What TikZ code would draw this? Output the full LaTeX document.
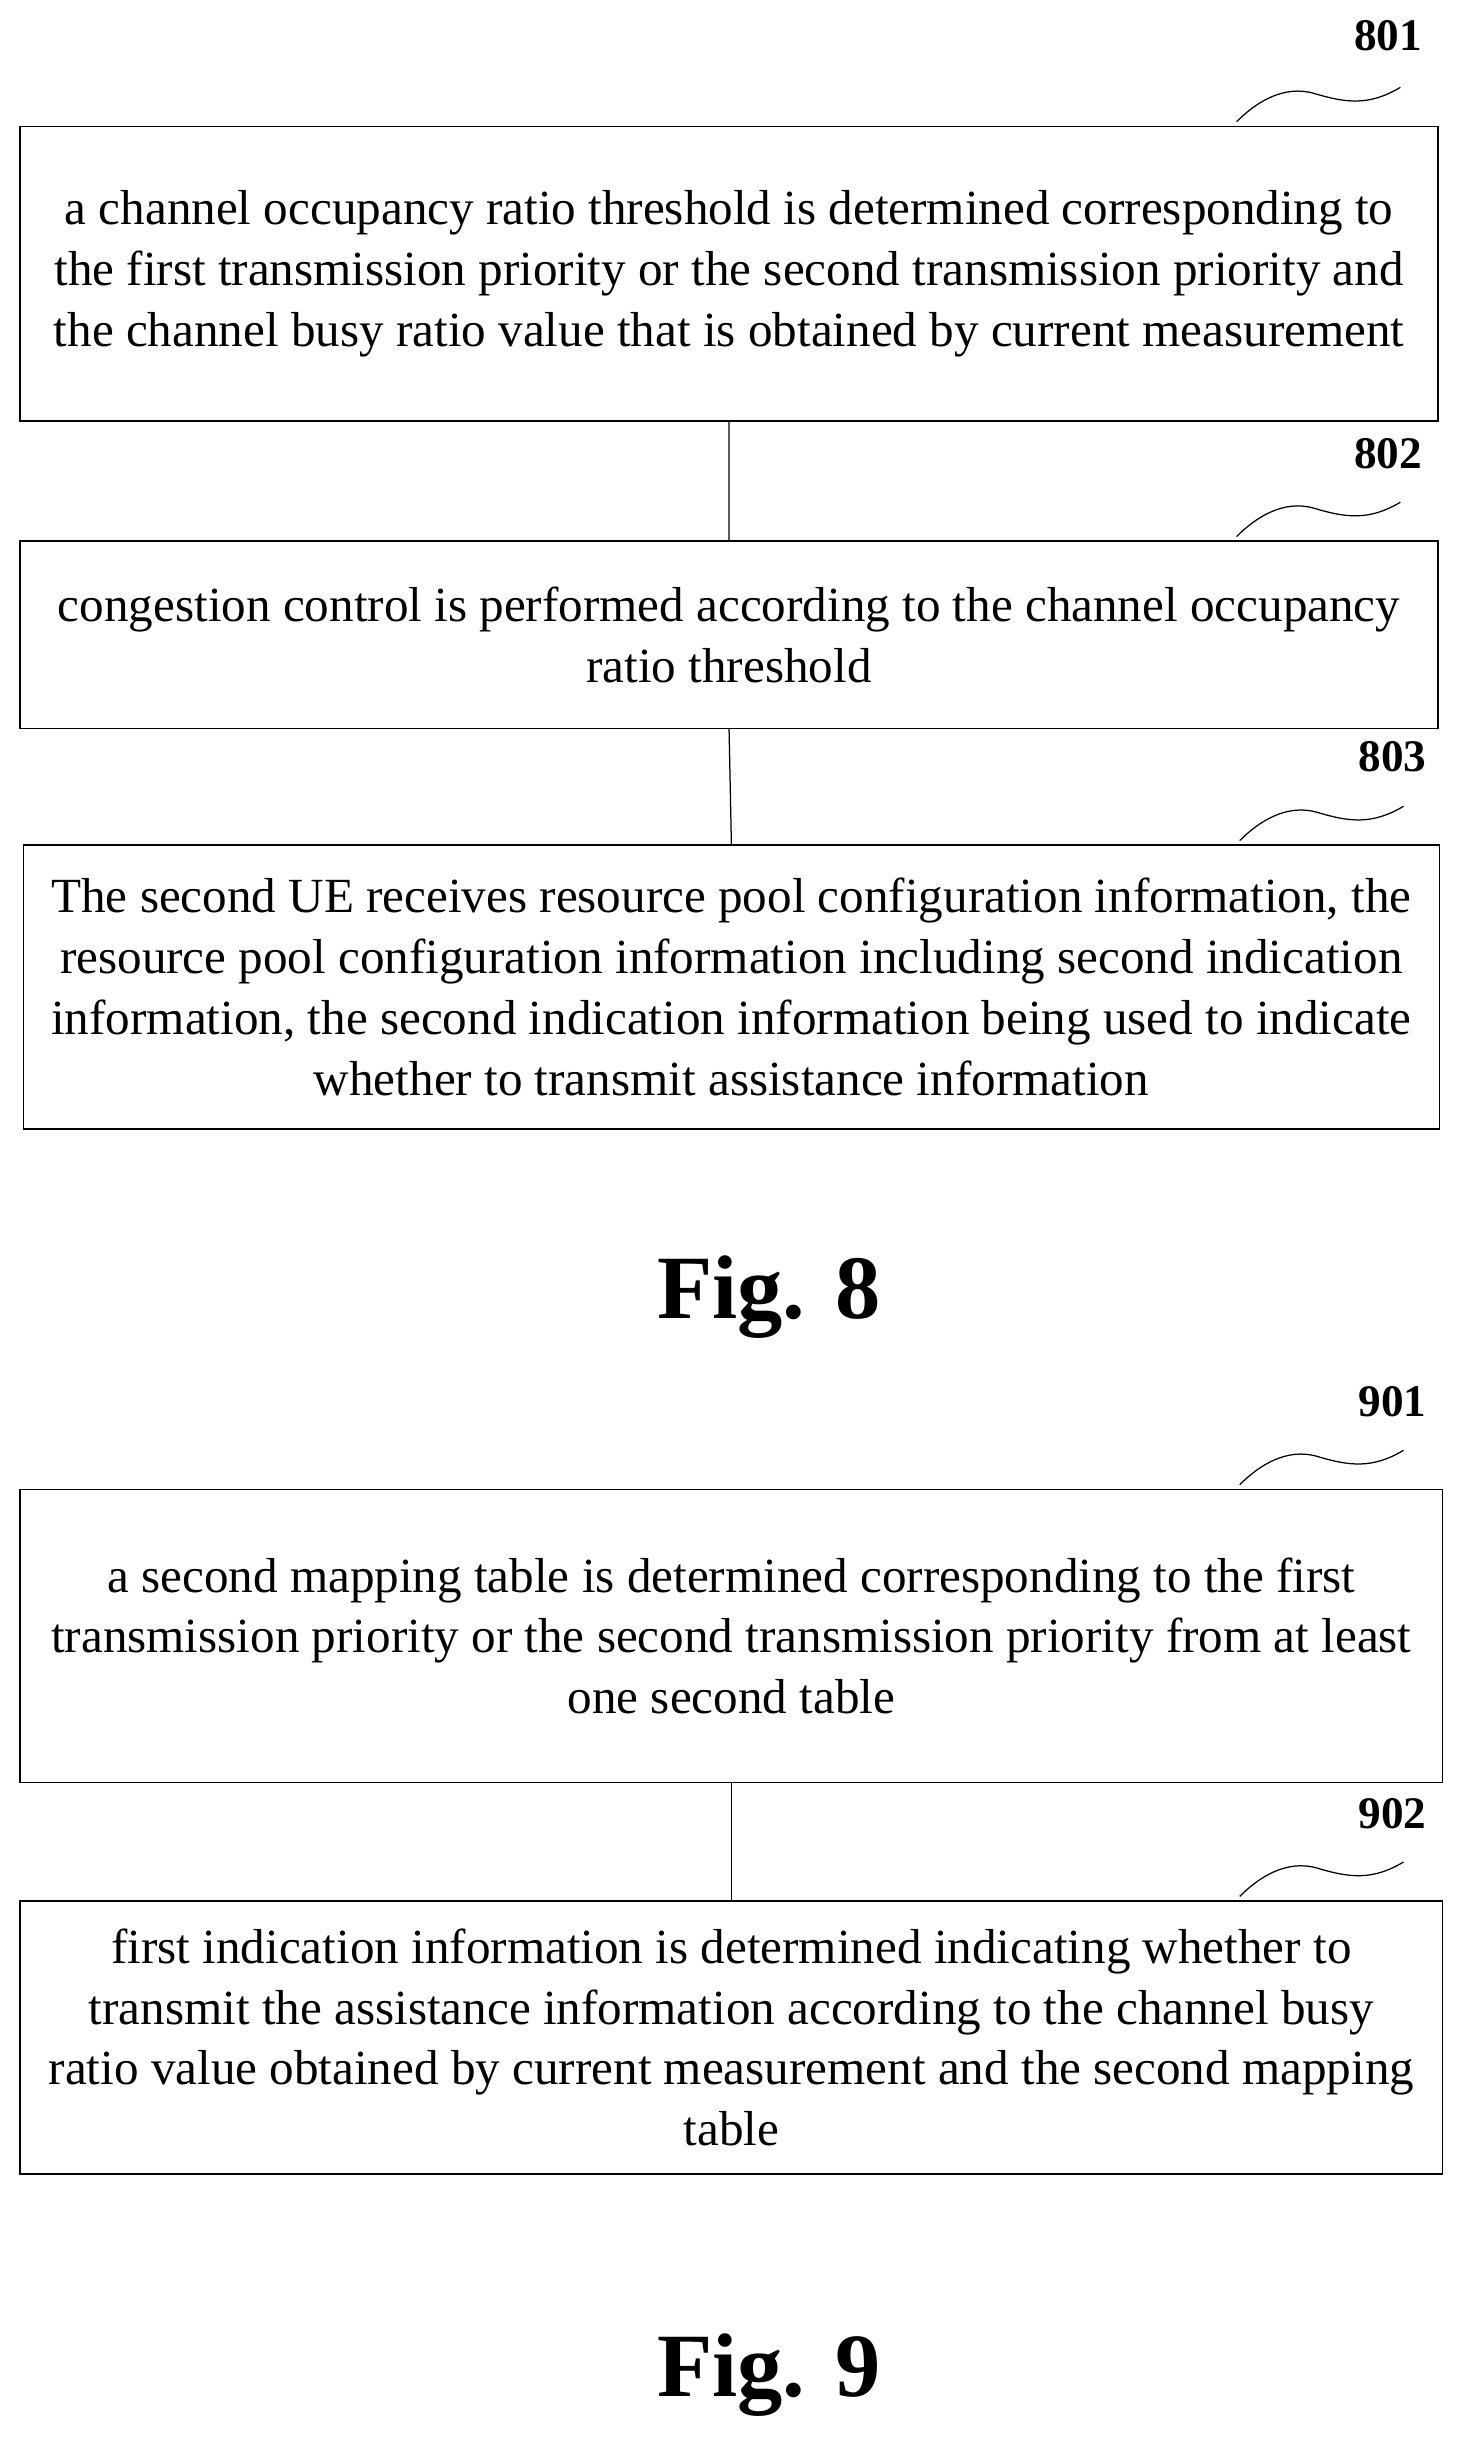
\documentclass[tikz,border=0pt]{standalone}
\usepackage{fontspec}
\setmainfont{Liberation Serif}
\begin{document}
\begin{tikzpicture}[x=1pt,y=-1pt,
  box/.style={draw,line width=1pt,inner sep=0pt,align=center,font=\fontsize{31.5}{39}\selectfont},
  lbl/.style={font=\bfseries\fontsize{29}{30}\selectfont},
  figl/.style={font=\bfseries\fontsize{58}{60}\selectfont}]
\useasboundingbox (0,0) rectangle (937,1564);
\newcommand{\sq}[2]{\draw[line width=0.8pt] (#1,#2) .. controls (#1+12,#2-12) and (#1+30,#2-24) .. (#1+50,#2-18) .. controls (#1+70,#2-12) and (#1+85,#2-10) .. (#1+105,#2-22);}
\node[box,minimum width=909pt,minimum height=189pt] (b801) at (467.5,175.5) {a channel occupancy ratio threshold is determined corresponding to\\the first transmission priority or the second transmission priority and\\the channel busy ratio value that is obtained by current measurement};
\node[box,minimum width=909pt,minimum height=120pt] (b802) at (467.5,407) {congestion control is performed according to the channel occupancy\\ratio threshold};
\node[box,minimum width=908pt,minimum height=182pt] (b803) at (469,633) {The second UE receives resource pool configuration information, the\\resource pool configuration information including second indication\\information, the second indication information being used to indicate\\whether to transmit assistance information};
\draw[line width=0.8pt] (b801.south)--(b802.north) (b802.south)--(b803.north);
\node[lbl] (l801) at (890,23) {801};
\node[lbl] (l802) at (890,291) {802};
\node[lbl] (l803) at (893,485) {803};
\sq{793}{78}\sq{793}{344}\sq{795}{539}
\node[figl] (f8) at (493,832) {Fig. 8};
\node[box,minimum width=912pt,minimum height=188pt] (b901) at (469,1049) {a second mapping table is determined corresponding to the first\\transmission priority or the second transmission priority from at least\\one second table};
\node[box,minimum width=912pt,minimum height=175pt] (b902) at (469,1306.5) {first indication information is determined indicating whether to\\transmit the assistance information according to the channel busy\\ratio value obtained by current measurement and the second mapping\\table};
\draw[line width=0.8pt] (b901.south)--(b902.north);
\node[lbl] (l901) at (893,899) {901};
\node[lbl] (l902) at (893,1163) {902};
\sq{795}{952}\sq{795}{1216}
\node[figl] (f9) at (493,1523) {Fig. 9};
\end{tikzpicture}
\end{document}
